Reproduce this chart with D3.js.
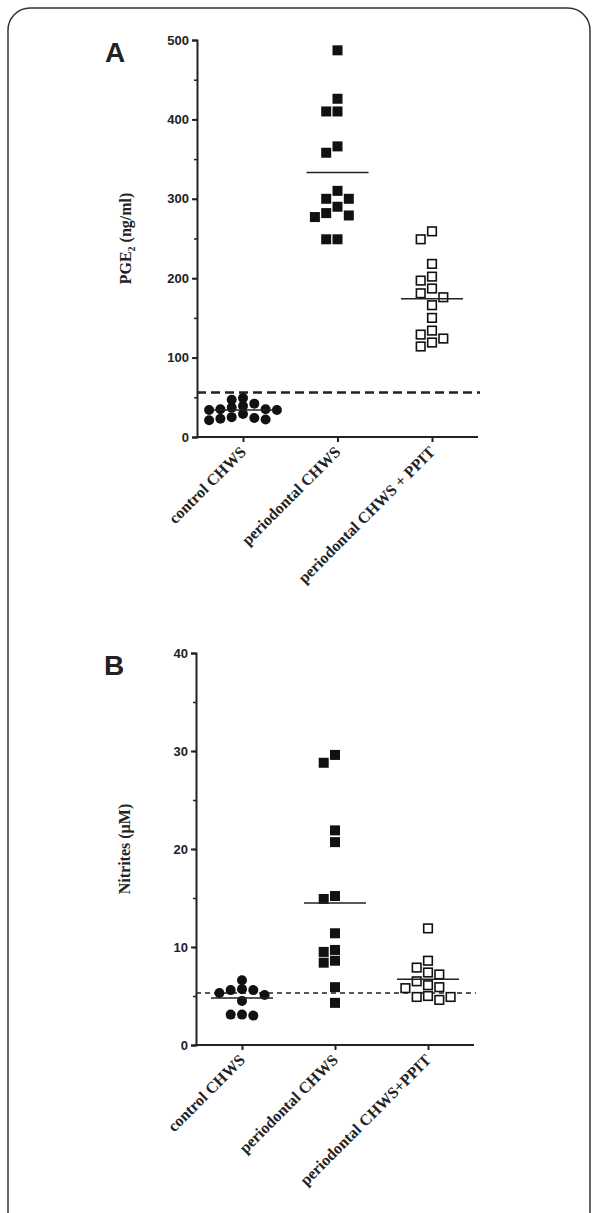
<!DOCTYPE html>
<html><head><meta charset="utf-8">
<script src="https://cdn.jsdelivr.net/npm/d3@7"></script>
<style>body{margin:0;background:#fff}</style>
</head><body>
<svg id="chart" width="598" height="1213"></svg>
<script>
// Panel A: PGE2 (ng/ml)
const categoriesA = ["control CHWS", "periodontal CHWS", "periodontal CHWS + PPIT"];
const controlA = [49, 47, 42, 39, 37, 35, 35, 34, 34, 29, 25, 24, 23, 22, 21];
const periodontalA = [487, 426, 410, 410, 366, 358, 310, 300, 300, 290, 282, 279, 277, 249, 249];
const ppitA = [259, 249, 218, 202, 197, 187, 181, 176, 166, 150, 134, 129, 124, 119, 114];
const meansA = [34, 333, 174];
const thresholdA = 56;
const ticksA = [0, 100, 200, 300, 400, 500];

// Panel B: Nitrites (uM)
const categoriesB = ["control CHWS", "periodontal CHWS", "periodontal CHWS+PPIT"];
const controlB = [6.6, 5.7, 5.6, 5.6, 5.3, 5.1, 4.5, 3.1, 3.1, 3.0];
const periodontalB = [29.6, 28.8, 21.9, 20.7, 15.2, 14.9, 11.4, 9.7, 9.5, 8.6, 8.4, 5.9, 4.3];
const ppitB = [11.9, 8.6, 7.9, 7.4, 7.2, 6.5, 6.1, 5.9, 5.8, 5.0, 4.9, 4.9, 4.6];
const meansB = [4.8, 14.5, 6.7];
const thresholdB = 5.3;
const ticksB = [0, 10, 20, 30, 40];

const svg = d3.select("#chart");

svg.append("rect").attr("x", 8).attr("y", 8).attr("width", 582).attr("height", 1240)
    .attr("rx", 22).attr("fill", "none").attr("stroke", "#333").attr("stroke-width", 1.5);

function drawPanel(cfg) {
    const g = svg.append("g");
    const y = d3.scaleLinear().domain([0, cfg.ticks[cfg.ticks.length - 1]]).range([cfg.bottom, cfg.top]);
    const x = d3.scalePoint().domain(cfg.categories).range([cfg.left + 46, cfg.right - 46]);

    // axes
    g.append("g").attr("transform", `translate(${cfg.left},0)`)
        .call(d3.axisLeft(y).tickValues(cfg.ticks).tickSize(5).tickFormat(d3.format("d")))
        .call(a => a.selectAll("text").attr("font-family", "Liberation Sans, Arial").attr("font-weight", "bold").attr("font-size", 13).attr("fill", "#222"))
        .call(a => a.selectAll("line,path").attr("stroke", "#222").attr("stroke-width", 2));
    g.append("g").attr("transform", `translate(${cfg.left},0)`)
        .call(d3.axisLeft(y).tickValues(d3.range(0, cfg.ticks[cfg.ticks.length - 1], cfg.ticks[1] / 2)).tickSize(3).tickFormat(""))
        .call(a => a.selectAll("line").attr("stroke", "#222").attr("stroke-width", 1.5))
        .call(a => a.select("path").remove());
    g.append("g").attr("transform", `translate(0,${cfg.bottom})`)
        .call(d3.axisBottom(x).tickSize(5).tickFormat(""))
        .call(a => a.selectAll("line").attr("stroke", "#222").attr("stroke-width", 2))
        .call(a => a.select("path").attr("d", `M${cfg.left},0H${cfg.right}`).attr("stroke", "#222").attr("stroke-width", 2));

    // category labels
    cfg.categories.forEach(c => {
        g.append("text").attr("transform", `translate(${x(c) + 4},${cfg.bottom + 16}) rotate(-45)`)
            .attr("text-anchor", "end").attr("font-family", "Liberation Serif, Times New Roman")
            .attr("font-weight", "bold").attr("font-size", 16).attr("fill", "#222").text(c);
    });

    // y label
    const yl = g.append("text").attr("transform", `translate(${cfg.left - 66},${(cfg.top + cfg.bottom) / 2}) rotate(-90)`)
        .attr("text-anchor", "middle").attr("font-family", "Liberation Serif, Times New Roman")
        .attr("font-weight", "bold").attr("font-size", 16).attr("fill", "#222");
    cfg.ylabel(yl);

    // panel letter
    g.append("text").attr("x", cfg.left - 92).attr("y", cfg.top + 22)
        .attr("font-family", "Liberation Sans, Arial").attr("font-weight", "bold")
        .attr("font-size", 28).attr("fill", "#222").text(cfg.letter);

    // threshold
    g.append("line").attr("x1", cfg.left).attr("x2", cfg.right + 2)
        .attr("y1", y(cfg.threshold)).attr("y2", y(cfg.threshold))
        .attr("stroke", "#222").attr("stroke-width", cfg.dashW).attr("stroke-dasharray", cfg.dash);

    // points, greedy beeswarm
    const step = 11.3;
    cfg.series.forEach((vals, i) => {
        const cx = x(cfg.categories[i]);
        const tol = i === 0 ? 7 : 10.5;
        const placed = [];
        vals.forEach(v => {
            const py = y(v);
            for (let k = 0; k < 20; k++) {
                const off = (k % 2 ? -1 : 1) * Math.ceil(k / 2) * step;
                const hit = placed.some(p => Math.abs(p.x - off) < step - 0.5 && Math.abs(p.y - py) < tol);
                if (!hit) { placed.push({ x: off, y: py }); break; }
            }
        });
        placed.forEach(p => {
            if (i === 0) {
                g.append("circle").attr("cx", cx + p.x).attr("cy", p.y).attr("r", 5).attr("fill", "#111");
            } else if (i === 1) {
                g.append("rect").attr("x", cx + p.x - 5).attr("y", p.y - 5).attr("width", 10).attr("height", 10).attr("fill", "#111");
            } else {
                g.append("rect").attr("x", cx + p.x - 4.3).attr("y", p.y - 4.3).attr("width", 8.6).attr("height", 8.6)
                    .attr("fill", "#fff").attr("stroke", "#111").attr("stroke-width", 1.6);
            }
        });
        g.append("line").attr("x1", cx - 31).attr("x2", cx + 31)
            .attr("y1", y(cfg.means[i])).attr("y2", y(cfg.means[i]))
            .attr("stroke", "#222").attr("stroke-width", 1.5);
    });
}

drawPanel({
    letter: "A", categories: categoriesA, series: [controlA, periodontalA, ppitA], means: meansA,
    threshold: thresholdA, ticks: ticksA, left: 197, right: 478, top: 40, bottom: 437,
    dash: "9,5", dashW: 2.5,
    ylabel: t => { t.append("tspan").text("PGE"); t.append("tspan").attr("font-size", 10).attr("dy", 4).text("2"); t.append("tspan").attr("dy", -4).text(" (ng/ml)"); }
});
drawPanel({
    letter: "B", categories: categoriesB, series: [controlB, periodontalB, ppitB], means: meansB,
    threshold: thresholdB, ticks: ticksB, left: 196, right: 474, top: 653, bottom: 1045,
    dash: "5,4", dashW: 1.5,
    ylabel: t => t.text("Nitrites (\u00b5M)")
});
</script>
</body></html>
